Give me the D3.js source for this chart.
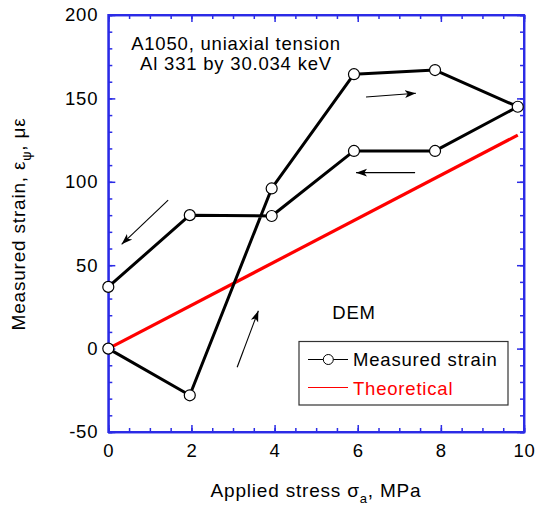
<!DOCTYPE html>
<html>
<head>
<meta charset="utf-8">
<script src="https://cdn.jsdelivr.net/npm/d3@7"></script>
<style>
  body { margin: 0; background: #fff; }
  text { font-family: "Liberation Sans", Arial, Helvetica, sans-serif; letter-spacing: 0.8px; }
</style>
</head>
<body>
<svg id="chart" width="538" height="506"></svg>
<script>
// measured loop (loading then unloading)
const stress = [0, 1.96, 3.93, 5.91, 7.86, 9.85, 7.86, 5.91, 3.93, 1.96, 0];
const measured = [0, -28, 96, 164.5, 167, 145, 118.5, 118.5, 79.5, 80, 37];

const theoStress = [0, 9.85];
const theoStrain = [0, 128];

const xTicks = [0, 2, 4, 6, 8, 10];
const yTicks = [-50, 0, 50, 100, 150, 200];

// arrows: [x1, y1, x2, y2] in data units
const arrows = [
   [6.2, 150.8, 7.4, 153.1],
   [7.38, 105.5, 5.96, 105.5],
   [1.44, 89, 0.32, 62.5],
   [3.1, -11.2, 3.61, 22.7]
];

const svg = d3.select('#chart');
const mLeft = 108.3, mRight = 524, mTop = 15, mBottom = 432;
const axisColor = '#2b2be6';
const fs = '18.5px';

let x = d3.scaleLinear().domain([0, 10]).range([mLeft, mRight]);
let y = d3.scaleLinear().domain([-50, 200]).range([mBottom, mTop]);

const minorX = d3.range(0, 10.01, 0.5);
const minorY = d3.range(-50, 200.1, 10);

// plain hyphen for negatives, like the original
const plain = d => String(d);

function styleAxis(g) {
   g.selectAll('path, line').attr('stroke', axisColor).attr('stroke-width', 1.5);
   g.selectAll('text').attr('fill', '#000').style('font-size', fs)
      .style('font-family', '"Liberation Sans", Arial, sans-serif');
}

// minor ticks, all four sides
svg.append('g').attr('transform', `translate(0,${mBottom})`)
   .call(d3.axisBottom(x).tickValues(minorX).tickSize(-4).tickFormat('')).call(styleAxis);
svg.append('g').attr('transform', `translate(0,${mTop})`)
   .call(d3.axisTop(x).tickValues(minorX).tickSize(-4).tickFormat('')).call(styleAxis);
svg.append('g').attr('transform', `translate(${mLeft},0)`)
   .call(d3.axisLeft(y).tickValues(minorY).tickSize(-4).tickFormat('')).call(styleAxis);
svg.append('g').attr('transform', `translate(${mRight},0)`)
   .call(d3.axisRight(y).tickValues(minorY).tickSize(-4).tickFormat('')).call(styleAxis);

// major ticks
svg.append('g').attr('transform', `translate(0,${mBottom})`)
   .call(d3.axisBottom(x).tickValues(xTicks).tickSize(-7).tickSizeOuter(0).tickPadding(12).tickFormat(plain))
   .call(styleAxis);
svg.append('g').attr('transform', `translate(0,${mTop})`)
   .call(d3.axisTop(x).tickValues(xTicks).tickSize(-7).tickSizeOuter(0).tickFormat('')).call(styleAxis);
svg.append('g').attr('transform', `translate(${mLeft},0)`)
   .call(d3.axisLeft(y).tickValues(yTicks).tickSize(-7).tickSizeOuter(0).tickPadding(10).tickFormat(plain))
   .call(styleAxis);
svg.append('g').attr('transform', `translate(${mRight},0)`)
   .call(d3.axisRight(y).tickValues(yTicks).tickSize(-7).tickSizeOuter(0).tickFormat('')).call(styleAxis);

// frame
svg.append('rect')
   .attr('x', mLeft).attr('y', mTop)
   .attr('width', mRight - mLeft).attr('height', mBottom - mTop)
   .attr('fill', 'none').attr('stroke', axisColor).attr('stroke-width', 2);

// theoretical
const theo = theoStress.map((s, i) => [s, theoStrain[i]]);
svg.append('path')
   .datum(theo)
   .attr('d', d3.line().x(d => x(d[0])).y(d => y(d[1])))
   .attr('fill', 'none').attr('stroke', '#ff0000').attr('stroke-width', 3.2);

// measured
const pts = stress.map((s, i) => [s, measured[i]]);
svg.append('path')
   .datum(pts)
   .attr('d', d3.line().x(d => x(d[0])).y(d => y(d[1])))
   .attr('fill', 'none').attr('stroke', '#000').attr('stroke-width', 3)
   .attr('stroke-linejoin', 'round');

svg.selectAll('.pt')
   .data(pts)
   .enter()
   .append('circle')
      .attr('cx', d => x(d[0]))
      .attr('cy', d => y(d[1]))
      .attr('r', 5.5)
      .attr('fill', '#fff')
      .attr('stroke', '#000')
      .attr('stroke-width', 1.2);

// arrows
svg.append('defs').append('marker')
   .attr('id', 'head')
   .attr('viewBox', '0 0 10 10')
   .attr('refX', 10).attr('refY', 5)
   .attr('markerWidth', 11).attr('markerHeight', 11)
   .attr('markerUnits', 'userSpaceOnUse')
   .attr('orient', 'auto')
   .append('path')
      .attr('d', 'M0,1.5 L10,5 L0,8.5 L2.5,5 Z')
      .attr('fill', '#000');

svg.selectAll('.arrow')
   .data(arrows)
   .enter()
   .append('line')
      .attr('x1', d => x(d[0])).attr('y1', d => y(d[1]))
      .attr('x2', d => x(d[2])).attr('y2', d => y(d[3]))
      .attr('stroke', '#000').attr('stroke-width', 1.1)
      .attr('marker-end', 'url(#head)');

// annotations
const note = svg.append('text')
   .attr('text-anchor', 'middle')
   .style('font-size', fs)
   .attr('fill', '#000');
note.append('tspan').attr('x', 236).attr('y', 50).text('A1050, uniaxial tension');
note.append('tspan').attr('x', 236).attr('y', 70).text('Al 331 by 30.034 keV');

svg.append('text')
   .attr('x', 354).attr('y', 319)
   .attr('text-anchor', 'middle')
   .style('font-size', fs)
   .attr('fill', '#000')
   .text('DEM');

// legend
svg.append('rect')
   .attr('x', 299).attr('y', 341.5)
   .attr('width', 209).attr('height', 63.5)
   .attr('fill', '#fff').attr('stroke', '#333').attr('stroke-width', 1.2);

svg.append('line')
   .attr('x1', 308).attr('x2', 348).attr('y1', 359.5).attr('y2', 359.5)
   .attr('stroke', '#000').attr('stroke-width', 1);
svg.append('circle')
   .attr('cx', 328.3).attr('cy', 359.5).attr('r', 5)
   .attr('fill', '#fff').attr('stroke', '#000').attr('stroke-width', 1);
svg.append('text')
   .attr('x', 353).attr('y', 366)
   .style('font-size', fs).attr('fill', '#000')
   .text('Measured strain');

svg.append('line')
   .attr('x1', 308).attr('x2', 348).attr('y1', 387.5).attr('y2', 387.5)
   .attr('stroke', '#ff0000').attr('stroke-width', 1);
svg.append('text')
   .attr('x', 353).attr('y', 394.5)
   .style('font-size', fs).attr('fill', '#ff0000')
   .text('Theoretical');

// axis titles
const xt = svg.append('text')
   .attr('x', 316).attr('y', 497)
   .attr('text-anchor', 'middle')
   .style('font-size', '19px').attr('fill', '#000');
xt.append('tspan').text('Applied stress σ');
xt.append('tspan').attr('dy', 6).style('font-size', '13px').text('a');
xt.append('tspan').attr('dy', -6).text(', MPa');

const yt = svg.append('text')
   .attr('transform', 'translate(25,224) rotate(-90)')
   .attr('text-anchor', 'middle')
   .style('font-size', '19px').attr('fill', '#000');
yt.append('tspan').text('Measured strain, ε');
yt.append('tspan').attr('dy', 6).style('font-size', '13px').text('ψ');
yt.append('tspan').attr('dy', -6).text(', με');
</script>
</body>
</html>
